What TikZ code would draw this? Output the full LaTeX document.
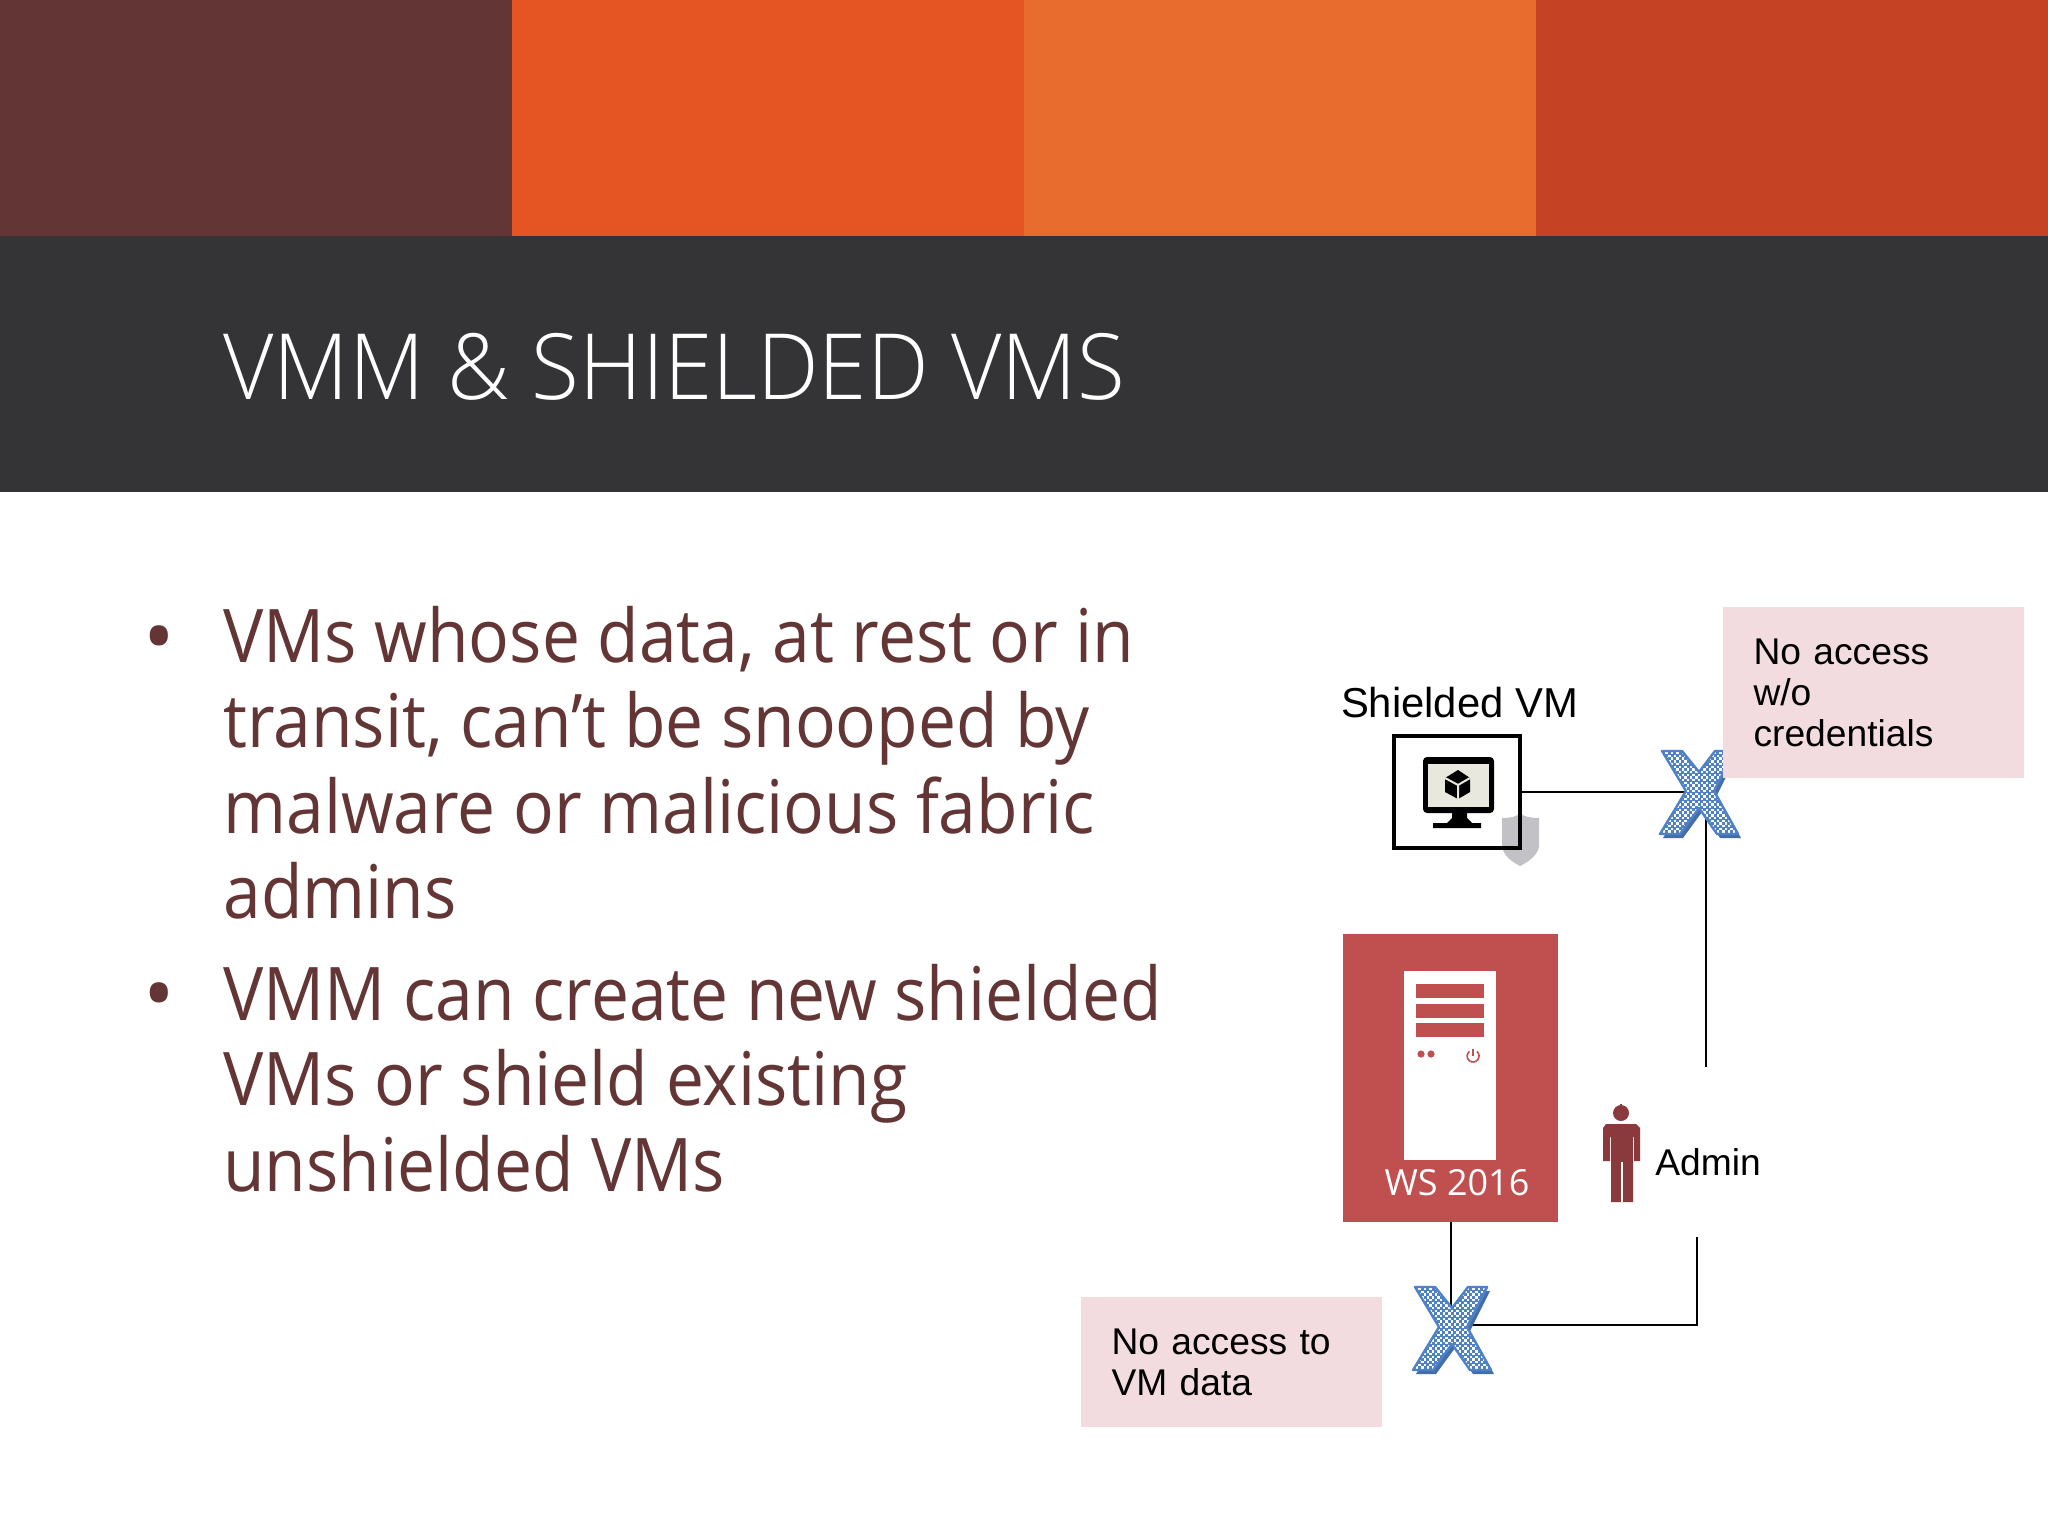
\documentclass[tikz,border=0pt]{standalone}
\usepackage{fontspec}
\usepackage{tikz}
\usetikzlibrary{positioning}
\setmainfont{Liberation Sans}
\newfontfamily\slidefont[FakeStretch=0.915]{Open Sans}
\newfontfamily\plainfont{Open Sans}
\newfontfamily\titlefont[FakeStretch=0.955]{Open Sans Light}
\definecolor{bandA}{HTML}{633534}
\definecolor{bandB}{HTML}{E55423}
\definecolor{bandC}{HTML}{E86C2E}
\definecolor{bandD}{HTML}{C54324}
\definecolor{darkbar}{HTML}{343335}
\definecolor{serverred}{HTML}{C04F4F}
\definecolor{notepink}{HTML}{F2DCDF}
\definecolor{crossblue}{HTML}{4F81C6}
\definecolor{adminred}{HTML}{8A3A3D}
\definecolor{screengrey}{HTML}{E9E8DE}
\definecolor{shieldgrey}{HTML}{C2C2C6}
\newcommand{\crossoutline}{(-37,-40) -- (-17,-40) -- (0,-19) -- (16,-40) -- (35,-40) -- (15,0)
            -- (39,43) -- (18,43) -- (0,17) -- (-19,43) -- (-39,43) -- (-13,0) -- cycle}
\tikzset{
    slidetext/.style={font=\slidefont\fontsize{37}{42.6}\selectfont, text=bandA, inner sep=0pt, align=left},
    bulletmark/.style={font=\plainfont\fontsize{42}{50}\selectfont, text=bandA, inner sep=0pt},
    notebox/.style={fill=notepink, inner ysep=0pt, inner xsep=15pt, align=left, text width=120pt,
        minimum width=150.5pt, font=\fontsize{18.6}{20.5}\selectfont},
    label/.style={inner sep=0pt, font=\fontsize{18.6}{20.5}\selectfont},
    link/.style={line width=1pt, black},
    denied/.pic={
        \fill[crossblue!85!black, shift={(3,4)}] \crossoutline;
        \fill[crossblue] \crossoutline;
        \begin{scope}
            \clip \crossoutline;
            \foreach \i in {-8,...,8}
                \foreach \j in {-8,...,8} {
                    \fill[white] (\i*5.4-1.2,\j*5.4-1.2) rectangle ++(2.4,2.4);
                    \fill[white] (\i*5.4+1.5,\j*5.4+1.5) rectangle ++(2.4,2.4);
                }
        \end{scope}
        \draw[crossblue, line width=1.2pt, line join=round] \crossoutline;
    }
}

\begin{document}
\begin{tikzpicture}[x=.5pt, y=-.5pt]
    \useasboundingbox (0,0) rectangle (2048,1536);
    \fill[white] (0,0) rectangle (2048,1536);

    % colour bands and title bar
    \fill[bandA] (0,0) rectangle (512,236);
    \fill[bandB] (512,0) rectangle (1024,236);
    \fill[bandC] (1024,0) rectangle (1536,236);
    \fill[bandD] (1536,0) rectangle (2048,236);
    \fill[darkbar] (0,236) rectangle (2048,492);
    \node[anchor=base west, inner sep=0pt, text=white, font=\titlefont\fontsize{45.7}{50}\selectfont] (title) at (223,399) {VMM \& SHIELDED VMS};

    % bullets
    \node[anchor=base west, bulletmark] (bulletA) at (143,666) {•};
    \node[anchor=base west, bulletmark] (bulletB) at (143,1023) {•};
    \node[anchor=north west, slidetext] (textA) at (223,606) {VMs whose data, at rest or in\\transit, can’t be snooped by\\malware or malicious fabric\\admins};
    \node[anchor=north west, slidetext] (textB) at (223,964) {VMM can create new shielded\\VMs or shield existing\\unshielded VMs};

    % shield behind the vm box
    \fill[shieldgrey] (1502,818) .. controls (1510,818) and (1516,817) .. (1520,813)
        .. controls (1524,817) and (1531,818) .. (1539,818) -- (1539,847)
        .. controls (1537,856) and (1528,862) .. (1520,866)
        .. controls (1512,862) and (1504,856) .. (1502,847) -- cycle;
    \node[draw=black, line width=2pt, minimum width=63pt, minimum height=56pt, inner sep=0pt] (vmbox) at (1457,792) {};
    \node[anchor=base, label, font=\fontsize{20.9}{24}\selectfont] (vmlabel) at (1459.5,717) {Shielded VM};

    % monitor
    \fill[black, rounded corners=2pt] (1423,757) rectangle (1494,813);
    \fill[screengrey] (1428,764) rectangle (1489,807);
    \fill[black] (1452,813) -- (1467,813) -- (1467,818) -- (1472,823) -- (1481,823) -- (1481,828)
        -- (1433,828) -- (1433,823) -- (1447,823) -- (1452,818) -- cycle;
    \fill[black] (1458,770) -- (1470,778) -- (1470,792) -- (1458,799) -- (1445,792) -- (1445,778) -- cycle;
    \draw[screengrey, line width=1pt] (1445,778) -- (1458,785) -- (1470,778) (1458,785) -- (1458,799);

    % server
    \node[fill=serverred, minimum width=107.5pt, minimum height=144pt, inner sep=0pt] (server) at (1450.5,1078) {};
    \fill[white] (1404,971) rectangle (1496,1160);
    \foreach \y in {984,1004,1023}
        \fill[serverred] (1416,\y) rectangle (1484,\y+14);
    \foreach \x in {1421,1431}
        \fill[serverred] (\x,1054) circle (1.8pt);
    \draw[serverred, line width=.8pt] (1476.9,1051.4) arc[start angle=50, end angle=-230, radius=3pt];
    \draw[serverred, line width=.8pt] (1473,1049) -- (1473,1056);
    \node[anchor=base, inner sep=0pt, text=white, font=\plainfont\fontsize{18}{20}\selectfont] (wslabel) at (1457,1195) {WS 2016};

    % admin
    \fill[adminred] (1621,1113) circle (4pt);
    \fill[adminred] (1620,1104) rectangle (1622,1108);
    \fill[adminred] (1606,1124) -- (1636,1124) -- (1640,1128) -- (1640,1161) -- (1634,1161) -- (1634,1137) -- (1633,1137)
        -- (1633,1202) -- (1611,1202) -- (1611,1137) -- (1610,1137) -- (1610,1161) -- (1603,1161) -- (1603,1128) -- cycle;
    \fill[white] (1621,1162) rectangle (1623,1202);
    \node[anchor=base west, label] (adminlabel) at (1655,1175) {Admin};

    % connectors
    \coordinate (adminup) at (1706,1067);
    \coordinate (admindown) at (1697,1237);
    \coordinate (crossvm) at (1699,791);
    \coordinate (crossws) at (1450.5,1325);
    \draw[link] (vmbox.east) -| (adminup);
    \draw[link] (server.south) -- (crossws);
    \draw[link] (admindown) |- (crossws);

    \pic at (1452,1327) {denied};
    \pic at (1699,791) {denied};

    % notes
    \node[notebox, minimum height=85.5pt] (noteA) at (1873.5,692.5) {No access\\w/o\\credentials};
    \node[notebox, minimum height=65pt] (noteB) at (1231.5,1362) {No access to\\VM data};
\end{tikzpicture}
\end{document}
